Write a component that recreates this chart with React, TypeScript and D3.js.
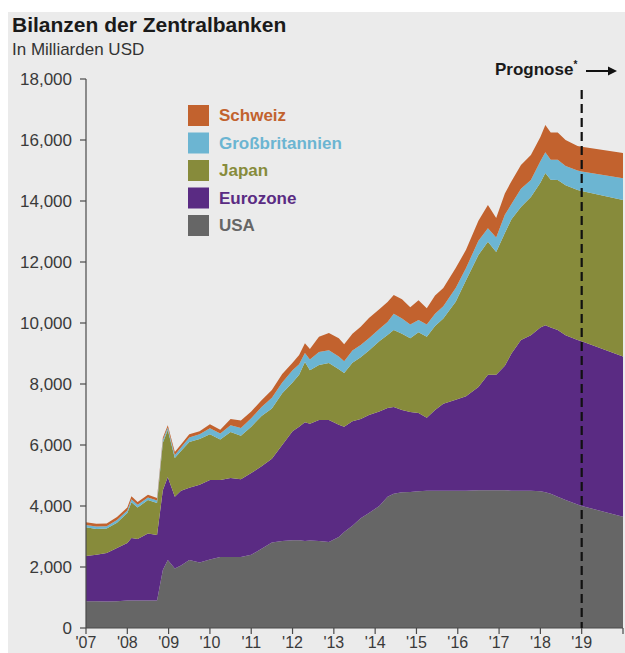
import React from "react";
import * as d3 from "d3";

const dates = [2007.0, 2007.25, 2007.5, 2007.75, 2008.0, 2008.1, 2008.25, 2008.5, 2008.72, 2008.86, 2008.98, 2009.15, 2009.3, 2009.5, 2009.75, 2010.0, 2010.25, 2010.5, 2010.75, 2011.0, 2011.25, 2011.5, 2011.75, 2012.0, 2012.16, 2012.3, 2012.42, 2012.64, 2012.88, 2013.12, 2013.25, 2013.45, 2013.65, 2013.85, 2014.1, 2014.3, 2014.45, 2014.65, 2014.85, 2015.05, 2015.25, 2015.45, 2015.65, 2015.95, 2016.2, 2016.5, 2016.73, 2016.93, 2017.14, 2017.3, 2017.53, 2017.77, 2018.0, 2018.12, 2018.25, 2018.42, 2018.61, 2018.9, 2019.0, 2020.0];

const usa = [880, 880, 870, 880, 900, 900, 900, 900, 900, 1900, 2230, 1950, 2050, 2230, 2150, 2250, 2330, 2330, 2330, 2400, 2600, 2800, 2850, 2880, 2880, 2850, 2870, 2850, 2820, 2980, 3150, 3350, 3600, 3770, 4000, 4300, 4400, 4450, 4460, 4480, 4500, 4500, 4500, 4500, 4500, 4520, 4520, 4520, 4520, 4500, 4500, 4500, 4480, 4450, 4400, 4300, 4200, 4050, 4000, 3650];

const eurozone = [1480, 1520, 1590, 1740, 1890, 2050, 2020, 2200, 2150, 2620, 2720, 2350, 2450, 2370, 2550, 2600, 2520, 2590, 2550, 2680, 2700, 2750, 3150, 3570, 3720, 3900, 3830, 3970, 4000, 3680, 3450, 3430, 3250, 3210, 3100, 2910, 2850, 2700, 2620, 2570, 2390, 2650, 2850, 2980, 3100, 3380, 3780, 3780, 4080, 4500, 4940, 5100, 5370, 5480, 5450, 5470, 5400, 5390, 5400, 5250];

const japan = [940, 850, 800, 830, 980, 1170, 1030, 1100, 1050, 1550, 1540, 1270, 1300, 1500, 1500, 1500, 1330, 1510, 1420, 1520, 1650, 1650, 1700, 1600, 1700, 1970, 1750, 1800, 1870, 1820, 1760, 1920, 2030, 2120, 2300, 2400, 2520, 2500, 2420, 2650, 2660, 2750, 2800, 3220, 3800, 4330, 4360, 4030, 4350, 4400, 4360, 4530, 4750, 4990, 4850, 4920, 4920, 4920, 4930, 5130];

const uk = [80, 80, 80, 90, 80, 100, 90, 80, 80, 90, 80, 100, 120, 150, 150, 200, 200, 220, 260, 280, 300, 350, 350, 400, 350, 300, 350, 430, 420, 420, 390, 400, 400, 400, 400, 420, 530, 500, 450, 400, 400, 400, 400, 450, 400, 470, 450, 470, 600, 500, 600, 560, 700, 680, 650, 660, 630, 640, 640, 720];

const swiss = [90, 90, 90, 100, 100, 100, 90, 90, 80, 80, 80, 100, 100, 100, 100, 130, 120, 200, 240, 220, 220, 250, 280, 250, 300, 320, 350, 500, 560, 600, 550, 550, 600, 660, 650, 660, 620, 630, 570, 650, 530, 600, 600, 650, 600, 650, 760, 640, 700, 750, 780, 820, 800, 890, 900, 900, 850, 800, 810, 820];

const seriesKeys = ["USA", "Eurozone", "Japan", "Großbritannien", "Schweiz"];
const seriesColors = ["#666666", "#5a2b83", "#878b3b", "#6cb5d2", "#c2622e"];
const legendOrder = ["Schweiz", "Großbritannien", "Japan", "Eurozone", "USA"];

const yTicks = [0, 2000, 4000, 6000, 8000, 10000, 12000, 14000, 16000, 18000];
const xTickYears = [2007, 2008, 2009, 2010, 2011, 2012, 2013, 2014, 2015, 2016, 2017, 2018, 2019, 2020];
const xTickLabels = ["'07", "'08", "'09", "'10", "'11", "'12", "'13", "'14", "'15", "'16", "'17", "'18", "'19", ""];

const title = "Bilanzen der Zentralbanken";
const subtitle = "In Milliarden USD";
const forecastLabel = "Prognose";
const forecastStart = 2019;

const W = 625;
const H = 653;
const FONT = "'Liberation Sans', Arial, sans-serif";

export default function App() {
  const x = d3.scaleLinear().domain([2007, 2020]).range([86, 623]);
  const y = d3.scaleLinear().domain([0, 18000]).range([628, 79]);

  const rows = dates.map((d, i) => ({
    date: d,
    USA: usa[i],
    Eurozone: eurozone[i],
    Japan: japan[i],
    "Großbritannien": uk[i],
    Schweiz: swiss[i],
  }));

  const stack = d3.stack<any>().keys(seriesKeys);
  const layers = stack(rows);
  const area = d3
    .area<any>()
    .x((d) => x(d.data.date))
    .y0((d) => y(d[0]))
    .y1((d) => y(d[1]))
    .curve(d3.curveLinear);

  const colorOf = (k: string) => seriesColors[seriesKeys.indexOf(k)];
  const axisColor = "#4a4a4a";
  const textColor = "#3a3a3a";

  return (
    <div style={{ position: "absolute", left: 0, top: 0 }}>
      <svg width={W} height={H} style={{ display: "block" }}>
        <rect x={0} y={0} width={W} height={H} fill="#ffffff" />
        <rect x={8} y={12} width={W - 8} height={H - 12} fill="#ebebeb" />

        <text x={12} y={32} fontFamily={FONT} fontWeight="bold" fontSize={21} fill="#1a1a1a">
          {title}
        </text>
        <text x={12} y={55} fontFamily={FONT} fontSize={17} fill="#333333">
          {subtitle}
        </text>

        {layers.map((layer) => (
          <path key={layer.key} d={area(layer) || ""} fill={colorOf(layer.key)} />
        ))}

        {/* y axis */}
        <line x1={86} x2={86} y1={y(18000)} y2={y(0)} stroke={axisColor} strokeWidth={1.2} />
        {yTicks.map((t) => (
          <g key={t}>
            <line x1={80} x2={86} y1={y(t)} y2={y(t)} stroke={axisColor} strokeWidth={1.2} />
            <text
              x={72}
              y={y(t)}
              dy="0.36em"
              textAnchor="end"
              fontFamily={FONT}
              fontSize={17}
              fill={textColor}
            >
              {d3.format(",")(t)}
            </text>
          </g>
        ))}

        {/* x axis */}
        <line x1={86} x2={623} y1={y(0)} y2={y(0)} stroke={axisColor} strokeWidth={1.2} />
        {xTickYears.map((yr, i) => (
          <g key={yr}>
            <line x1={x(yr)} x2={x(yr)} y1={y(0)} y2={y(0) + 6} stroke={axisColor} strokeWidth={1.2} />
            <text
              x={x(yr)}
              y={648}
              textAnchor="middle"
              fontFamily={FONT}
              fontSize={16}
              fill={textColor}
            >
              {xTickLabels[i]}
            </text>
          </g>
        ))}

        {/* forecast marker */}
        <line
          x1={x(forecastStart)}
          x2={x(forecastStart)}
          y1={90}
          y2={y(0)}
          stroke="#111111"
          strokeWidth={2.2}
          strokeDasharray="9,5"
        />
        <text x={495} y={75} fontFamily={FONT} fontWeight="bold" fontSize={17} fill="#1a1a1a">
          {forecastLabel}
          <tspan fontSize={10} dy={-7}>*</tspan>
        </text>
        <line x1={586} x2={610} y1={71} y2={71} stroke="#111111" strokeWidth={2} />
        <path d="M 608 66.5 L 617 71 L 608 75.5 Z" fill="#111111" />

        {/* legend */}
        {legendOrder.map((k, i) => (
          <g key={k} transform={`translate(188, ${105 + i * 27.5})`}>
            <rect x={0} y={0} width={21} height={21} fill={colorOf(k)} />
            <text x={31} y={16} fontFamily={FONT} fontWeight="bold" fontSize={17} fill={colorOf(k)}>
              {k}
            </text>
          </g>
        ))}
      </svg>
    </div>
  );
}
